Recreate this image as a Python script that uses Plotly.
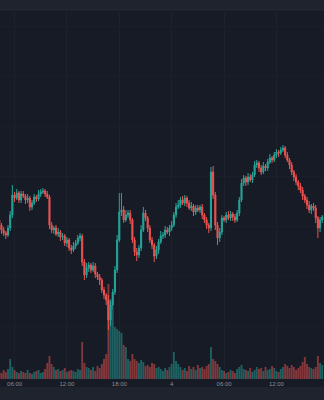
import pandas as pd
import plotly.graph_objects as go

# 15-minute candles, 2024-06-03 04:15 -> 2024-06-04 17:15
times = pd.date_range("2024-06-03 04:15", periods=149, freq="15min")

closes = [
    66700, 66600, 66540, 66500, 66640, 66900, 67300, 67240, 67340, 67200,
    67320, 67280, 67200, 67240, 67060, 67140, 67260, 67220, 67320, 67360,
    67380, 67320, 67260, 66700, 66600, 66640, 66520, 66560, 66460, 66480,
    66340, 66400, 66240, 66200, 66280, 66340, 66440, 66480, 65960, 65700,
    65840, 65900, 65800, 65880, 65720, 65660, 65600, 65400, 65300, 65200,
    64800, 65100, 65360, 65800, 66400, 66960, 67000, 66800, 66900, 66940,
    66800, 66400, 66160, 66100, 66240, 66600, 66940, 66840, 66640, 66400,
    66300, 66080, 66200, 66360, 66480, 66500, 66600, 66560, 66640, 66700,
    66900, 67060, 67100, 67200, 67140, 67240, 67140, 67040, 67080, 66960,
    67040, 67000, 67060, 66900, 66800, 66700, 66640, 67760, 67300, 66700,
    66440, 66560, 66840, 66800, 66900, 66840, 66920, 66860, 66800, 66940,
    67200, 67540, 67640, 67560, 67660, 67600, 67700, 67900, 67940, 67840,
    67760, 67880, 67840, 67960, 68040, 68000, 68100, 68160, 68140, 68200,
    68240, 68100, 68000, 67900, 67760, 67660, 67560, 67480, 67400, 67280,
    67200, 67100, 67000, 67080, 67040, 66840, 66640, 66800, 66860,
]
first_open = 66800

upper_wick = [
    60, 40, 60, 40, 60, 80, 200, 60, 80, 40,
    60, 60, 40, 80, 40, 60, 60, 40, 80, 60,
    60, 40, 60, 40, 60, 40, 60, 80, 40, 60,
    40, 60, 40, 60, 80, 60, 60, 60, 40, 60,
    100, 60, 40, 80, 60, 40, 60, 40, 60, 40,
    100, 80, 60, 80, 100, 380, 340, 80, 100, 60,
    60, 40, 60, 80, 60, 100, 120, 60, 40, 60,
    60, 40, 80, 60, 100, 60, 80, 60, 60, 80,
    60, 80, 100, 60, 80, 60, 40, 60, 80, 40,
    60, 60, 40, 60, 40, 60, 40, 100, 120, 60,
    60, 80, 60, 40, 60, 80, 60, 40, 60, 60,
    60, 80, 60, 40, 80, 60, 60, 80, 60, 40,
    60, 80, 40, 60, 80, 40, 60, 60, 40, 60,
    60, 40, 60, 40, 60, 40, 60, 40, 60, 60,
    40, 60, 80, 40, 60, 60, 40, 60, 40,
]
lower_wick = [
    60, 80, 60, 80, 40, 60, 60, 80, 40, 60,
    60, 40, 80, 60, 80, 60, 40, 60, 40, 60,
    40, 60, 40, 80, 60, 80, 40, 60, 80, 60,
    60, 80, 60, 80, 40, 60, 40, 60, 80, 100,
    60, 80, 60, 40, 80, 60, 100, 60, 80, 100,
    200, 120, 80, 60, 60, 40, 80, 60, 40, 60,
    80, 60, 80, 120, 60, 60, 40, 60, 80, 60,
    80, 120, 60, 80, 40, 60, 60, 40, 80, 60,
    40, 60, 40, 60, 40, 60, 80, 40, 60, 80,
    60, 40, 60, 80, 60, 80, 100, 60, 80, 100,
    140, 80, 60, 40, 60, 40, 60, 80, 60, 40,
    60, 40, 60, 80, 60, 40, 60, 40, 60, 80,
    60, 40, 60, 60, 40, 60, 40, 60, 80, 40,
    40, 60, 40, 80, 60, 80, 60, 80, 60, 80,
    60, 80, 60, 80, 60, 100, 200, 80, 60,
]
volumes = [
    80, 60, 90, 70, 100, 200, 120, 90, 70, 60,
    80, 70, 60, 90, 60, 50, 70, 80, 90, 60,
    70, 100, 160, 230, 150, 120, 90, 100, 80, 90,
    110, 70, 80, 90, 80, 70, 100, 90, 370, 160,
    120, 110, 90, 120, 80, 130, 110, 150, 200, 250,
    950, 800, 700, 520, 500, 480, 460, 340, 320, 200,
    180, 250, 200, 180, 160, 190, 170, 130, 140, 120,
    160, 150, 110, 120, 100, 80, 110, 90, 120, 150,
    270, 180, 150, 120, 90, 110, 80, 130, 100, 120,
    90, 140, 110, 120, 100, 130, 150, 320, 200, 180,
    150, 120, 90, 80, 60, 70, 90, 80, 60, 100,
    120, 140, 100, 90, 80, 110, 70, 90, 120, 100,
    110, 80, 120, 90, 100, 130, 110, 80, 70, 100,
    120, 150, 130, 110, 140, 120, 90, 110, 130, 170,
    220, 150, 120, 110, 100, 120, 230, 160, 140,
]

tick_vals = ["2024-06-03 06:00", "2024-06-03 12:00", "2024-06-03 18:00",
             "2024-06-04 00:00", "2024-06-04 06:00", "2024-06-04 12:00"]
tick_text = ["06:00", "12:00", "18:00", "4", "06:00", "12:00"]

opens = [first_open] + closes[:-1]
highs = [max(o, c) + u for o, c, u in zip(opens, closes, upper_wick)]
lows = [min(o, c) - d for o, c, d in zip(opens, closes, lower_wick)]

UP = "#26a69a"
DOWN = "#ef5350"
vol_colors = ["rgba(38,166,154,0.5)" if c >= o else "rgba(239,83,80,0.5)"
              for o, c in zip(opens, closes)]

fig = go.Figure()
fig.add_trace(go.Bar(x=times, y=volumes, marker_color=vol_colors,
                     marker_line_width=0, yaxis="y", hoverinfo="skip"))
fig.add_trace(go.Candlestick(
    x=times, open=opens, high=highs, low=lows, close=closes, yaxis="y2",
    increasing=dict(line=dict(color=UP, width=1), fillcolor=UP),
    decreasing=dict(line=dict(color=DOWN, width=1), fillcolor=DOWN),
    whiskerwidth=0, hoverinfo="skip"))

H_PLOT = 400 - 12 - 21
BG = "#171b26"
STRIP = "#1f232e"

fig.update_layout(
    width=324, height=400,
    margin=dict(l=0, r=0, t=12, b=21),
    paper_bgcolor=BG, plot_bgcolor=BG,
    showlegend=False, bargap=0.12,
    font=dict(family="Liberation Sans", color="#8a8d96", size=6),
    xaxis=dict(type="date", range=["2024-06-03 04:20", "2024-06-04 17:27"],
               tickvals=tick_vals, ticktext=tick_text, tickfont=dict(size=6, color="#8a8d96"),
               showgrid=True, gridcolor="#1d212c", gridwidth=1, zeroline=False,
               showline=False, ticks="", rangeslider=dict(visible=False)),
    yaxis=dict(range=[0, 3670], showticklabels=False, showgrid=True,
               gridcolor="#1b1f2a", dtick=500, tick0=30, zeroline=False, fixedrange=True),
    yaxis2=dict(range=[63620, 70960], overlaying="y", showticklabels=False,
                showgrid=False, zeroline=False),
    shapes=[
        dict(type="rect", xref="paper", yref="paper", x0=0, x1=1,
             y0=1 + 2 / H_PLOT, y1=1 + 12 / H_PLOT, fillcolor=STRIP, line_width=0, layer="above"),
        dict(type="line", xref="paper", yref="paper", x0=0, x1=1,
             y0=1 + 2 / H_PLOT, y1=1 + 2 / H_PLOT, line=dict(color="#262a35", width=1)),
        dict(type="rect", xref="paper", yref="paper", x0=0, x1=1,
             y0=-21 / H_PLOT, y1=-8 / H_PLOT, fillcolor=STRIP, line_width=0, layer="above"),
    ],
)

fig.write_html("out.html")
